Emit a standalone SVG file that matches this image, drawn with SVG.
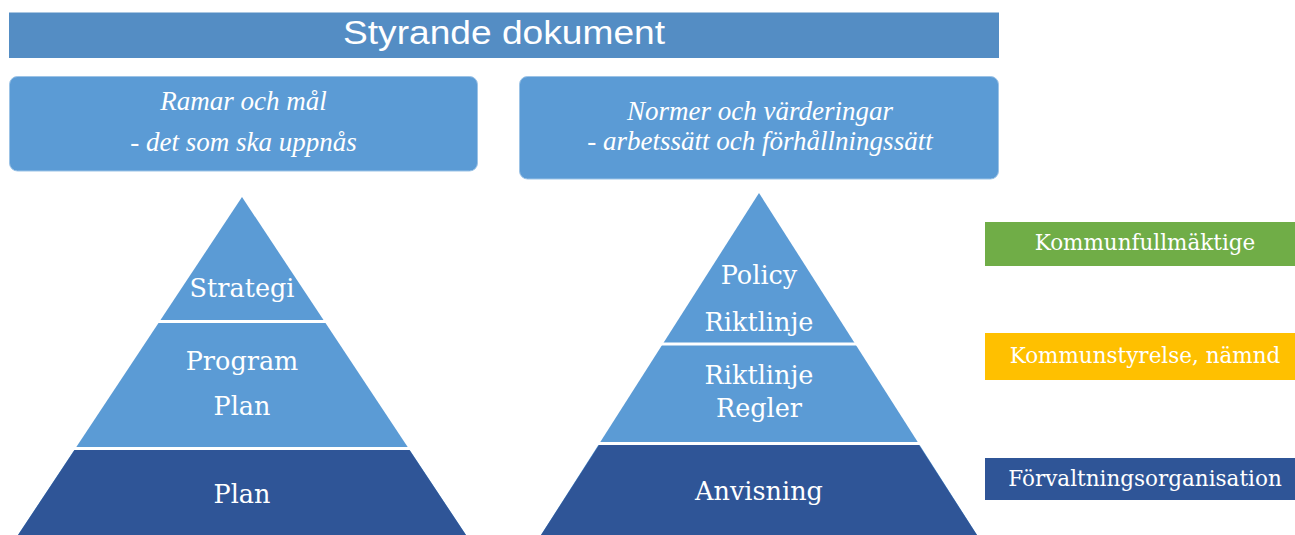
<svg xmlns="http://www.w3.org/2000/svg" width="1295" height="535" viewBox="0 0 1295 535">
<style>
.title{font-family:"Liberation Sans",Arial,sans-serif;font-size:34px;fill:#fff;text-anchor:middle}
.hdr{font-family:"Liberation Serif","Times New Roman",serif;font-style:italic;font-size:27px;fill:#fff;text-anchor:middle}
.pyr{font-family:"DejaVu Serif",serif;font-size:25.5px;fill:#fff;text-anchor:middle}
.lbl{font-family:"DejaVu Serif",serif;font-size:21.5px;fill:#fff;text-anchor:middle}
.light{fill:#5b9bd5}
.dark{fill:#2f5597}
.sep{stroke:#fff;stroke-width:3}
</style>
<rect width="1295" height="535" fill="#fff"/>
<g id="title">
<rect x="9" y="12.5" width="990" height="45.5" fill="#548dc4"/>
<text class="title" x="504" y="44" textLength="322" lengthAdjust="spacingAndGlyphs">Styrande dokument</text>
</g>
<g id="ramar">
<rect x="9.5" y="76.5" width="468" height="94.5" rx="8" class="light" stroke="#9cc3e6" stroke-width="1"/>
<text class="hdr" x="243.5" y="110">Ramar och mål</text>
<text class="hdr" x="243.5" y="151">- det som ska uppnås</text>
</g>
<g id="normer">
<rect x="519.5" y="76.5" width="479" height="102.5" rx="8" class="light" stroke="#9cc3e6" stroke-width="1"/>
<text class="hdr" x="760" y="120">Normer och värderingar</text>
<text class="hdr" x="760" y="150">- arbetssätt och förhållningssätt</text>
</g>
<g id="pyramid-left">
<polygon class="light" points="242,197 466,535 18,535"/>
<polygon class="dark" points="74.5,450 409.5,450 466,535 18,535"/>
<line class="sep" x1="155" y1="321.5" x2="329" y2="321.5"/>
<line class="sep" x1="70" y1="448.5" x2="414" y2="448.5"/>
<text class="pyr" x="242" y="297">Strategi</text>
<text class="pyr" x="242" y="370">Program</text>
<text class="pyr" x="242" y="415">Plan</text>
<text class="pyr" x="242" y="503">Plan</text>
</g>
<g id="pyramid-right">
<polygon class="light" points="759,193 977,535 541,535"/>
<polygon class="dark" points="599,445 919,445 977,535 541,535"/>
<line class="sep" x1="658" y1="344" x2="860" y2="344"/>
<line class="sep" x1="595" y1="443.5" x2="923" y2="443.5"/>
<text class="pyr" x="759" y="284">Policy</text>
<text class="pyr" x="759" y="331">Riktlinje</text>
<text class="pyr" x="759" y="384">Riktlinje</text>
<text class="pyr" x="759" y="417">Regler</text>
<text class="pyr" x="759" y="500">Anvisning</text>
</g>
<g id="kf">
<rect x="985" y="222" width="310" height="44" fill="#70ad47"/>
<text class="lbl" x="1145" y="250">Kommunfullmäktige</text>
</g>
<g id="ks">
<rect x="985" y="333" width="310" height="47" fill="#ffc000"/>
<text class="lbl" x="1145" y="363">Kommunstyrelse, nämnd</text>
</g>
<g id="fo">
<rect x="985" y="458" width="310" height="42" fill="#2f5597"/>
<text class="lbl" x="1145" y="486">Förvaltningsorganisation</text>
</g>
<g id="connectors"/>
</svg>
